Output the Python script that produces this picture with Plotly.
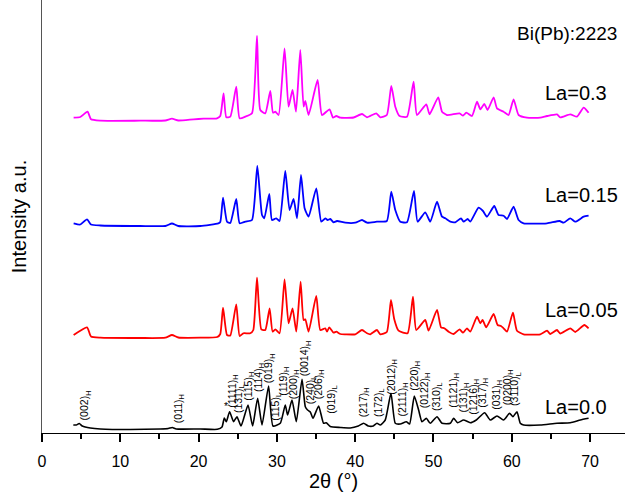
import plotly.graph_objects as go

# ---------------- data (2theta in degrees, intensity in a.u. incl. stacking offset) ----------------
tt_la00 = [4.00, 4.38, 4.76, 5.15, 6.17, 7.45, 11.28, 15.10, 16.13, 16.64, 17.15, 20.22, 22.39, 22.99,
           23.28, 23.54, 23.96, 24.47, 24.90, 25.42, 26.31, 26.90, 27.54, 28.10, 28.94, 29.50, 30.43,
           31.07, 31.37, 31.93, 32.48, 33.21, 33.63, 33.92, 34.27, 34.61, 35.33, 35.96, 36.31, 36.82,
           38.10, 39.37, 40.40, 41.07, 41.67, 42.31, 42.78, 43.21, 43.84, 44.57, 45.12, 45.76, 46.53,
           46.95, 47.55, 48.10, 48.53, 49.08, 49.59, 50.45, 51.09, 52.15, 52.57, 53.08, 53.84, 54.70,
           55.47, 56.53, 57.25, 58.11, 58.95, 59.72, 60.15, 60.66, 61.09, 61.51, 63.64, 65.77, 67.47,
           68.75, 69.81]
int_la00 = [8, 8, 9.5, 7, 5, 4, 3.5, 4, 4.5, 5.5, 4, 4, 3.7, 6,
            15, 11.3, 21.3, 11.3, 16.3, 7, 28, 7, 34.7, 8, 47, 7, 9.7,
            28, 18, 33, 11.3, 53.7, 26.3, 23, 21, 14.7, 27, 9.7, 10.3, 6.5,
            5.5, 5, 7, 9.7, 7, 7, 9.7, 8, 13, 39.7, 9.7, 9, 11.3,
            9, 37, 23, 11.3, 14.7, 9.7, 16.3, 9.7, 9.7, 14.7, 10.3, 13, 10.3,
            13, 20.3, 13, 17, 13, 19.7, 16.3, 21.3, 9.7, 8, 8, 9.7, 10.3,
            13, 14.7]

tt_la005 = [4.04, 5.75, 6.26, 7.45, 12.55, 15.75, 16.60, 17.41, 20.22, 22.39, 22.77, 23.12, 23.63,
            24.05, 24.81, 25.24, 25.71, 26.60, 26.99, 27.46, 28.01, 28.52, 29.07, 29.45, 29.80, 30.34,
            30.98, 31.49, 32.00, 32.48, 33.03, 33.41, 33.63, 34.05, 35.03, 35.54, 36.18, 36.40, 36.69,
            37.24, 37.59, 38.10, 38.74, 40.01, 40.87, 41.51, 41.93, 42.78, 43.21, 44.04, 44.57, 44.99,
            45.54, 46.69, 47.38, 47.80, 48.95, 49.37, 50.45, 50.96, 51.38, 51.93, 52.57, 53.33, 53.77,
            54.28, 54.70, 55.56, 55.98, 56.27, 56.74, 57.68, 58.19, 58.62, 58.95, 59.39, 60.15, 60.66,
            61.51, 63.64, 64.50, 64.92, 65.77, 66.19, 67.47, 68.11, 69.27, 69.81]
int_la005 = [98, 105.7, 96.5, 95.3, 95, 95.3, 98, 95.5, 95.3, 96, 99, 125.3, 98,
             97.5, 128.7, 97, 99.7, 99.7, 103, 155.3, 103.7, 103, 124.7, 101.3, 103.7, 99.7,
             153.7, 109.7, 124.7, 101.3, 151.3, 113, 113.7, 101.3, 137, 103, 104.7, 101.3, 105.7,
             100.3, 101.3, 99, 98.7, 98.7, 103, 99.7, 98.7, 103, 98.7, 101, 133, 113.7,
             102.3, 99.7, 136.3, 103, 113, 102.3, 123, 105.7, 104.7, 101.3, 99, 103.7, 100.3,
             104.7, 101.3, 116.3, 109.7, 113, 105.7, 119, 108, 107, 104.7, 101.3, 120.3, 102.3,
             98.7, 98.7, 102.3, 99, 103, 99.5, 104.7, 101, 108, 104.7]

tt_la015 = [4.04, 4.89, 5.75, 6.26, 7.45, 12.55, 15.75, 16.60, 17.41, 20.22, 22.52, 22.77, 23.12,
            23.63, 24.05, 24.81, 25.24, 25.96, 26.82, 27.50, 28.10, 28.39, 29.03, 29.37, 29.92, 30.34,
            31.07, 31.62, 32.13, 32.57, 33.08, 33.54, 34.05, 35.03, 35.67, 36.18, 36.48, 36.82, 37.24,
            37.68, 38.74, 40.01, 40.87, 41.51, 42.78, 44.04, 44.61, 45.12, 45.76, 46.62, 47.51, 47.97,
            48.95, 49.59, 50.45, 51.09, 51.51, 52.15, 52.78, 53.51, 53.84, 54.36, 54.70, 55.76, 56.32,
            56.83, 57.76, 58.31, 58.95, 59.39, 60.23, 60.87, 61.51, 64.50, 66.10, 66.62, 67.47, 68.11,
            69.18, 69.81]
int_la015 = [209.7, 208.5, 213.7, 208.5, 207.5, 207, 207, 209.5, 207, 207, 209.7, 211, 235.3,
             211.3, 210, 234, 209.7, 211.3, 213, 267, 218, 214.7, 239, 213, 214.7, 212,
             262, 223, 234, 214.7, 258, 224.7, 216.3, 244.7, 211.3, 214.7, 213, 214, 210.7,
             212, 210.3, 210.3, 213, 210.3, 211.3, 212, 241.3, 223, 211.3, 210.7, 242, 211.3,
             220.7, 211.3, 231.3, 216.3, 214.7, 211.3, 210.7, 214.7, 211.3, 214, 211.3, 225.3, 222,
             216.3, 227, 218, 217.3, 214, 226.3, 213, 209.7, 209.7, 212, 210.3, 214.7, 211.3,
             216.3, 217.3]

tt_la03 = [4.04, 4.89, 5.82, 6.26, 7.45, 12.55, 15.75, 16.60, 17.41, 19.36, 20.64, 22.35, 22.77,
           23.19, 23.54, 24.05, 24.81, 25.24, 25.96, 26.82, 27.46, 27.88, 28.52, 29.16, 29.50, 29.80,
           30.22, 30.98, 31.49, 32.00, 32.44, 32.99, 33.41, 33.63, 34.05, 35.20, 35.76, 36.73, 37.16,
           37.59, 38.10, 39.80, 40.87, 41.51, 42.69, 43.21, 44.04, 44.61, 45.12, 45.67, 46.62, 47.46,
           47.89, 49.08, 49.50, 50.61, 51.09, 51.72, 53.33, 53.77, 54.19, 54.92, 55.56, 55.98, 56.49,
           56.91, 57.68, 58.11, 58.95, 59.59, 60.23, 60.87, 61.94, 63.64, 64.50, 65.77, 66.19, 67.47,
           68.33, 69.18, 69.81]
int_la03 = [315.3, 316, 321.3, 313.7, 312.3, 312.3, 312.5, 314.3, 312.5, 313.7, 314.3, 314.7, 317,
            339.7, 315.7, 316.3, 346.3, 314.7, 316.3, 319.7, 397, 323, 319.7, 342, 320.3, 321.3,
            318, 384.7, 326.3, 343, 321.3, 383, 326.3, 332, 318, 353, 318, 323.7, 315.3,
            317, 315.3, 315.5, 319, 315.7, 319.7, 315.7, 318, 347, 326.3, 317, 316.3, 351.3,
            318, 328.7, 318.7, 335.7, 321.3, 318, 319.7, 317.3, 320.3, 317, 331.3, 323.7, 329,
            323, 335.7, 324.7, 321.3, 318, 333.7, 318, 315.3, 315.3, 317, 318.7, 315.7, 318.7,
            316.3, 325.3, 320.3]

series_names = ["La=0.0", "La=0.05", "La=0.15", "La=0.3"]
series_colors = ["#000000", "#FF0000", "#0000FF", "#FF00FF"]
series_label_2theta = [64.0, 64.0, 64.0, 64.0]
series_label_level = [26.5, 123, 238, 340.3]

# Miller-index labels of the La=0.0 pattern
hkl_text = ["(002)<sub>H</sub>", "(011)<sub>H</sub>", "*", "(1111)<sub>H</sub>", "(131)<sub>L</sub>",
            "(115)<sub>H</sub>", "(114)<sub>H</sub>", "(019)<sub>H</sub>", "(115)<sub>L</sub>",
            "(119)<sub>H</sub>", "(200)<sub>H</sub>", "(0014)<sub>H</sub>", "(240)<sub>L</sub>",
            "(206)<sub>H</sub>", "(019)<sub>L</sub>", "(217)<sub>H</sub>", "(172)<sub>L</sub>",
            "(2012)<sub>H</sub>", "(2111)<sub>H</sub>", "(220)<sub>H</sub>", "(0122)<sub>H</sub>",
            "(310)<sub>L</sub>", "(1121)<sub>H</sub>", "(131)<sub>H</sub>", "(1216)<sub>H</sub>",
            "(317)<sub>H</sub>", "(031)<sub>H</sub>", "(0200)<sub>H</sub>", "(3110)<sub>L</sub>"]
hkl_2theta = [5.54, 17.45, 23.54, 24.30, 25.11, 26.35, 27.66, 29.03, 29.86, 30.82, 32.22, 33.63,
              34.33, 35.41, 36.95, 41.16, 42.99, 44.61, 46.14, 47.55, 48.95, 50.36, 52.53, 53.84,
              55.17, 56.30, 58.11, 59.45, 60.49]
hkl_level = [11, 8, 19, 23, 18, 30, 39, 48, 10, 35, 32, 55, 27, 32, 17, 14, 14, 36.5, 14.7, 40.5,
             23, 19.7, 23, 18, 16.3, 23, 21.3, 26.3, 24.7]

# ---------------- figure ----------------
FONT = "Liberation Sans, Arial, sans-serif"
fig = go.Figure()

all_x = [tt_la00, tt_la005, tt_la015, tt_la03]
all_y = [int_la00, int_la005, int_la015, int_la03]
widths = [1.6, 1.8, 1.8, 1.8]
for xs, ys, name, col, w in zip(all_x, all_y, series_names, series_colors, widths):
    fig.add_trace(go.Scatter(x=xs, y=ys, mode="lines", name=name,
                             line=dict(color=col, width=w, shape="spline", smoothing=0.5),
                             showlegend=False))

annotations = []
for txt, xv, yv in zip(series_names, series_label_2theta, series_label_level):
    annotations.append(dict(x=xv, y=yv, xref="x", yref="y", text=txt, showarrow=False,
                            xanchor="left", yanchor="middle",
                            font=dict(family=FONT, size=20, color="black")))
annotations.append(dict(x=60.45, y=400, xref="x", yref="y", text="Bi(Pb):2223", showarrow=False,
                        xanchor="left", yanchor="middle",
                        font=dict(family=FONT, size=19, color="black")))
for txt, xv, yv in zip(hkl_text, hkl_2theta, hkl_level):
    annotations.append(dict(x=xv, y=yv, xref="x", yref="y", text=txt, showarrow=False,
                            textangle=-90 if txt != "*" else 0,
                            xanchor="center", yanchor="bottom",
                            font=dict(family=FONT, size=10.5, color="black")))

fig.update_layout(
    width=625, height=493,
    margin=dict(l=42, r=0, t=0, b=60, autoexpand=False),
    paper_bgcolor="white", plot_bgcolor="white",
    annotations=annotations,
    font=dict(family=FONT, color="black"),
)
fig.update_xaxes(range=[0, 74.46], tickmode="linear", tick0=0, dtick=10,
                 ticks="outside", ticklen=8, tickwidth=1.5,
                 tickcolor="black", showline=True, linecolor="black", linewidth=1.3,
                 showgrid=False, zeroline=False, automargin=False, ticklabelstandoff=6,
                 tickfont=dict(family=FONT, size=16, color="black"),
                 title=dict(text="2θ (°)", font=dict(family=FONT, size=20, color="black"), standoff=2),
                 minor=dict(tick0=0, dtick=5, ticks="outside", ticklen=5, tickcolor="black",
                            tickwidth=1.5, showgrid=False))
fig.update_yaxes(range=[0, 433], showticklabels=False, ticks="", showline=True, linecolor="#555555",
                 linewidth=1.2, showgrid=False, zeroline=False, automargin=False,
                 title=dict(text="Intensity a.u.", font=dict(family=FONT, size=20, color="black"),
                            standoff=8))

fig.write_html("out.html", config={"displayModeBar": False},
               post_script="document.body.style.margin='0';document.body.style.overflow='hidden';")
